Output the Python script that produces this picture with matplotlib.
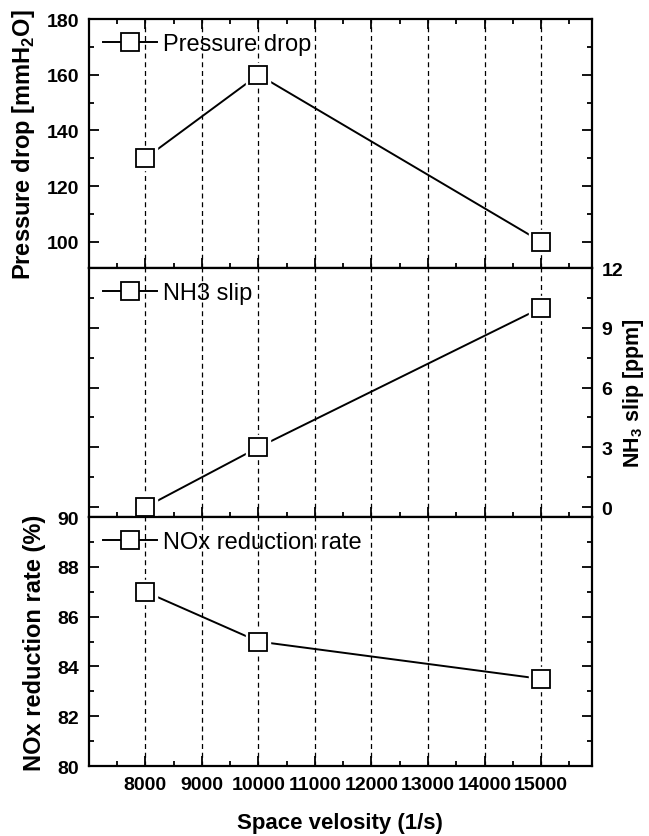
import matplotlib
matplotlib.use("Agg")
import matplotlib.pyplot as plt
from matplotlib.ticker import FixedLocator, MultipleLocator

plt.rcParams['font.family'] = ['Liberation Sans', 'DejaVu Sans']
plt.rcParams['mathtext.fontset'] = 'custom'
plt.rcParams['mathtext.rm'] = 'Liberation Sans'
plt.rcParams['mathtext.bf'] = 'Liberation Sans:bold'

# data
space_velocity = [8000, 10000, 15000]
pressure_drop = [130, 160, 100]
nh3_slip = [0, 3, 10]
nox_rate = [87, 85, 83.5]
x_ticks = [8000, 9000, 10000, 11000, 12000, 13000, 14000, 15000]

fig, axes = plt.subplots(3, 1, sharex=True, figsize=(6.49, 8.37), dpi=100)
fig.subplots_adjust(left=0.137, right=0.912, top=0.976, bottom=0.0836, hspace=0)

panels = [
    (pressure_drop, "Pressure drop", (90.5, 180), 20, 10),
    (nh3_slip, "NH3 slip", (-0.5, 12), 3, 1.5),
    (nox_rate, "NOx reduction rate", (80, 90), 2, 1),
]

for ax, (vals, lab, ylim, major, minor) in zip(axes, panels):
    ax.plot(space_velocity, vals, '-s', color='k', lw=1.4, ms=12.5, mfc='w',
            mec='k', mew=1.3, label=lab, zorder=3)
    # white halo so the line stops short of the markers
    ax.plot(space_velocity, vals, 's', ms=17, mfc='w', mec='w', zorder=4)
    ax.plot(space_velocity, vals, 's', ms=12.5, mfc='w', mec='k', mew=1.3, zorder=5)
    ax.set_ylim(*ylim)
    ax.yaxis.set_major_locator(MultipleLocator(major))
    ax.yaxis.set_minor_locator(MultipleLocator(minor))
    ax.xaxis.set_major_locator(FixedLocator(x_ticks))
    ax.xaxis.set_minor_locator(MultipleLocator(500))
    ax.xaxis.grid(True, which='major', ls=(0, (4, 3)), color='k', lw=0.9)
    ax.set_axisbelow(True)
    for s in ax.spines.values():
        s.set_linewidth(1.6)
    ax.tick_params(which='both', direction='in', width=1.3, labelsize=14,
                   left=True, right=True, top=False, bottom=True)
    ax.tick_params(which='major', length=7)
    ax.tick_params(which='minor', length=3.5)
    ax.tick_params(axis='y', pad=7)
    ax.legend(loc='upper left', frameon=False, fontsize=17,
              handlelength=2.3, handletextpad=0.25,
              borderaxespad=0.3, borderpad=0.3)

axes[0].tick_params(which='both', top=True)
axes[0].set_yticks([100, 120, 140, 160, 180])
axes[0].set_ylabel(r"Pressure drop [mmH$_\mathbf{2}$O]", fontsize=17,
                   fontweight='bold', labelpad=7)

axes[1].tick_params(labelleft=False, labelright=True)
axes[1].set_yticks([0, 3, 6, 9, 12])
axes[1].yaxis.set_label_position('right')
axes[1].set_ylabel(r"NH$_\mathbf{3}$ slip [ppm]", fontsize=15.5,
                   fontweight='bold')
axes[1].yaxis.set_label_coords(1.058, 0.5)

axes[2].set_ylabel("NOx reduction rate (%)", fontsize=17,
                   fontweight='bold', labelpad=8)
axes[2].set_xlim(7000, 15900)
axes[2].set_xlabel("Space velosity (1/s)", fontsize=16, fontweight='bold',
                   labelpad=14)
axes[2].tick_params(axis='x', pad=7)

for ax in axes:
    for t in ax.get_yticklabels() + ax.get_xticklabels():
        t.set_fontweight('bold')

fig.savefig("out.png", dpi=100)
